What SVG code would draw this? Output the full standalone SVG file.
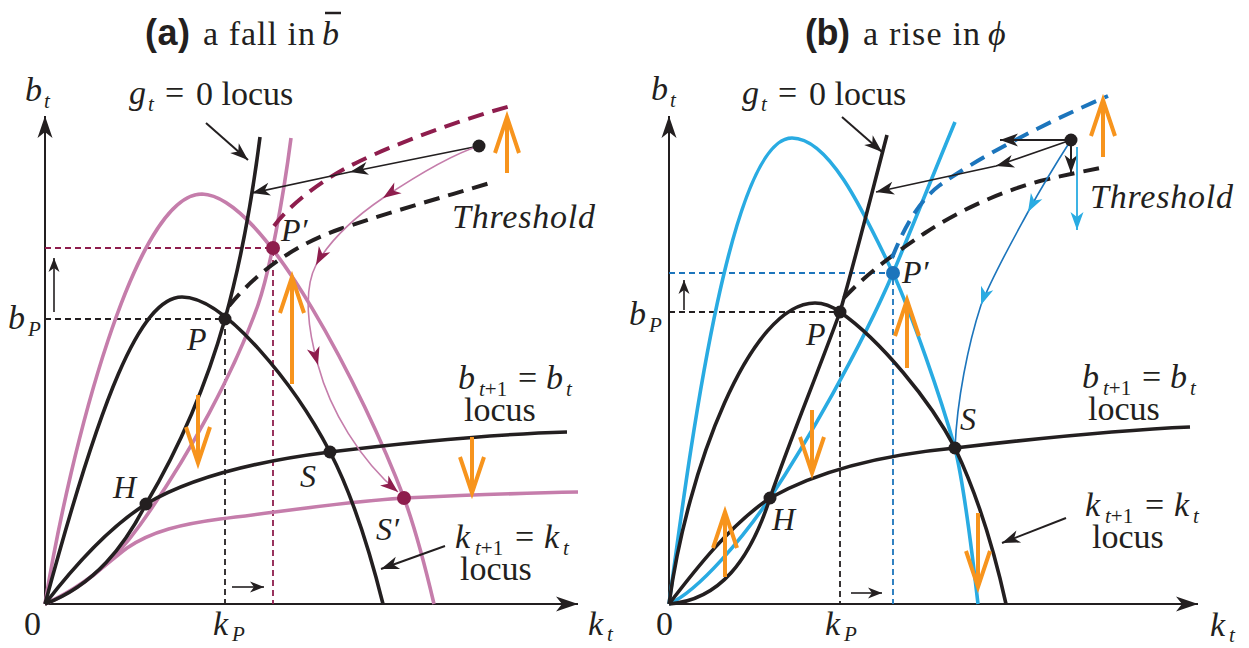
<svg xmlns="http://www.w3.org/2000/svg" width="1249" height="648" viewBox="0 0 1249 648" font-family="Liberation Serif, DejaVu Serif, serif">
<style>
text{font-family:'Liberation Serif','DejaVu Serif',serif;fill:#231f20}
.it{font-style:italic;font-size:34px}
.rm{font-style:normal;font-size:34px}
.pt{font-style:italic;font-size:32px}
.si{font-style:italic;font-size:21px}
.sr{font-style:normal;font-size:21px}
.ttl{font-family:'Liberation Sans',Arial,sans-serif;font-weight:bold;font-size:36px}
.axis{fill:none;stroke:#231f20;stroke-width:2}
.cb{fill:none;stroke:#231f20;stroke-width:3.6}
.cp{fill:none;stroke:#c57dab;stroke-width:3.6}
.cl{fill:none;stroke:#29abe2;stroke-width:3.6}
.thb{fill:none;stroke:#231f20;stroke-width:4;stroke-dasharray:16 9}
.thp{fill:none;stroke:#8e1d4d;stroke-width:4;stroke-dasharray:16 9}
.thl{fill:none;stroke:#1c75bc;stroke-width:4;stroke-dasharray:16 9}
.gb{fill:none;stroke:#231f20;stroke-width:1.8;stroke-dasharray:6 4}
.gp{fill:none;stroke:#8e1d4d;stroke-width:1.8;stroke-dasharray:6 4}
.gl{fill:none;stroke:#1c75bc;stroke-width:1.8;stroke-dasharray:6 4}
.thin{fill:none;stroke:#231f20;stroke-width:1.6}
.ann{fill:none;stroke:#231f20;stroke-width:2}
.or{fill:none;stroke:#f7941d;stroke-width:4}
.dk{fill:#231f20}
</style>
<defs>
<marker id="ax" viewBox="-24 -9 26 18" refX="0" refY="0" markerWidth="26" markerHeight="18" markerUnits="userSpaceOnUse" orient="auto"><path d="M0,0 L-22,-7.5 L-16,0 L-22,7.5 Z" fill="#231f20"/></marker>
<marker id="ab" viewBox="-20 -8 22 16" refX="0" refY="0" markerWidth="22" markerHeight="16" markerUnits="userSpaceOnUse" orient="auto"><path d="M0,0 L-18,-6.5 L-13,0 L-18,6.5 Z" fill="#231f20"/></marker>
<marker id="as" viewBox="-16 -7 18 14" refX="0" refY="0" markerWidth="18" markerHeight="14" markerUnits="userSpaceOnUse" orient="auto"><path d="M0,0 L-14,-5.5 L-10,0 L-14,5.5 Z" fill="#231f20"/></marker>
<marker id="ap" viewBox="-20 -8 22 16" refX="0" refY="0" markerWidth="22" markerHeight="16" markerUnits="userSpaceOnUse" orient="auto"><path d="M0,0 L-18,-6.5 L-13,0 L-18,6.5 Z" fill="#8e1d4d"/></marker>
<marker id="al" viewBox="-20 -8 22 16" refX="0" refY="0" markerWidth="22" markerHeight="16" markerUnits="userSpaceOnUse" orient="auto"><path d="M0,0 L-18,-6.5 L-13,0 L-18,6.5 Z" fill="#29abe2"/></marker>
</defs>
<rect width="1249" height="648" fill="#ffffff"/>

<g id="titles">
<text class="ttl" x="145" y="45" textLength="45">(a)</text>
<text class="rm" x="203" y="45" textLength="112">a fall in</text>
<text class="it" x="322" y="45">b</text>
<line x1="325" y1="13" x2="341" y2="13" stroke="#231f20" stroke-width="2.5"/>
<text class="ttl" x="805" y="45" textLength="45">(b)</text>
<text class="rm" x="863" y="45" textLength="117">a rise in</text>
<text class="it" x="988" y="45">ϕ</text>
</g>

<g id="axes">
<path class="axis" d="M45,604 V116" marker-end="url(#ax)"/>
<path class="axis" d="M45,604 H578" marker-end="url(#ax)"/>
<path class="axis" d="M669,604 V116" marker-end="url(#ax)"/>
<path class="axis" d="M669,604 H1198" marker-end="url(#ax)"/>
</g>

<g id="guides">
<path class="gb" d="M45,319 H225 V604"/>
<path class="gp" d="M45,248 H273 V604"/>
<path class="gb" d="M669,312 H840 V604"/>
<path class="gl" d="M669,273 H893 V604"/>
</g>

<g id="curves-a">
<path class="cp" d="M45,604 C70,450 135,194 202,194 C265,196 365,395 404,498 C414,525 426,570 434,604"/>
<path class="cp" d="M45,604 C85,588 115,560 140,525 C190,455 235,370 258,305 C270,270 283,200 291,138"/>
<path class="cp" d="M45,604 C85,586 108,562 127,548 C152,531 182,524 220,519 C280,512 340,502 404,498 C470,495 520,493 578,492"/>
<path class="cb" d="M45,604 C100,400 140,297 182,297 C225,297 295,385 330,452 C355,500 372,560 383,604"/>
<path class="cb" d="M45,604 C95,585 125,545 146,504 C175,455 205,390 225,319 C240,265 252,200 260,137"/>
<path class="cb" d="M45,604 C75,565 108,528 146,504 C190,478 250,462 330,452 C420,441 500,434 567,432"/>
<path class="thb" d="M229,306 C260,268 300,243 340,229 C390,212 440,198 490,183"/>
<path class="thp" d="M274,226 C290,205 320,180 360,161 C400,142 460,120 514,105"/>
</g>

<g id="curves-b">
<path class="cl" d="M669,604 C690,450 730,138 792,138 C830,138 865,215 893,273 C912,315 940,395 955,448 C965,490 973,560 978,604"/>
<path class="cl" d="M669,604 C700,590 745,535 770,498 C805,445 860,350 893,273 C912,228 935,170 955,122"/>
<path class="cb" d="M669,604 C687,470 750,303 815,303 C825,303 833,307 840,312 C880,340 930,400 955,448 C975,490 993,545 1006,604"/>
<path class="cb" d="M669,604 C720,600 750,560 770,498 C790,440 815,380 840,312 C855,260 870,200 887,135"/>
<path class="cb" d="M669,604 C695,570 730,525 770,498 C820,470 880,455 955,448 C1040,438 1120,430 1190,427"/>
<path class="thb" d="M844,298 C870,270 900,250 925,233 C960,210 1000,192 1040,181 C1065,175 1085,171 1105,167"/>
<path class="thl" d="M892,258 C905,225 920,200 940,185 C975,160 1040,125 1108,96"/>
</g>

<g id="connectors">
<path class="ann" d="M206,123 L248,160" marker-end="url(#ab)"/>
<path class="ann" d="M445,546 L381,569" marker-end="url(#ab)"/>
<path class="ann" d="M842,117 L882,152" marker-end="url(#ab)"/>
<path class="ann" d="M1066,518 L1002,543" marker-end="url(#ab)"/>
<path class="thin" d="M479,146 L350,172 L252,193" marker-mid="url(#ab)" marker-end="url(#ab)"/>
<path fill="none" stroke="#c57dab" stroke-width="1.6" d="M479,146 C450,155 410,180 383,198 C355,217 330,240 316,265 C303,290 308,330 318,365 C330,410 360,460 398,492" marker-mid="url(#ap)" marker-end="url(#ap)"/>
<path class="thin" d="M54,312 V258" marker-end="url(#as)"/>
<path class="thin" d="M232,587 H264" marker-end="url(#as)"/>
<path class="ann" d="M1071,140 H1000" marker-end="url(#ab)"/>
<path class="ann" d="M1071,140 V173" marker-end="url(#ab)"/>
<path class="thin" d="M1071,140 L996,166 L876,192" marker-mid="url(#ab)" marker-end="url(#ab)"/>
<path fill="none" stroke="#29abe2" stroke-width="1.8" d="M1077,147 V230" marker-end="url(#al)"/>
<path fill="none" stroke="#1c75bc" stroke-width="1.6" d="M1071,140 C1055,165 1040,190 1028,212 C1010,245 993,275 981,305 C968,345 957,400 955,448" marker-mid="url(#al)"/>
<path class="thin" d="M684,310 V280" marker-end="url(#as)"/>
<path class="thin" d="M851,593 H882" marker-end="url(#as)"/>
</g>

<g id="orange-arrows">
<path class="or" d="M507,173 V117 M495,153 L507,117 L519,153"/>
<path class="or" d="M292,384 V277 M280,313 L292,277 L304,313"/>
<path class="or" d="M198,395 V463 M186,427 L198,463 L210,427"/>
<path class="or" d="M472,437 V493 M460,457 L472,493 L484,457"/>
<path class="or" d="M1103,157 V100 M1091,136 L1103,100 L1115,136"/>
<path class="or" d="M907,368 V300 M895,336 L907,300 L919,336"/>
<path class="or" d="M812,410 V473 M800,437 L812,473 L824,437"/>
<path class="or" d="M725,577 V512 M713,548 L725,512 L737,548"/>
<path class="or" d="M978,513 V587 M966,551 L978,587 L990,551"/>
</g>

<g id="node-P-a"><circle class="dk" cx="225" cy="319" r="6.5"/><text class="pt" x="187" y="350">P</text></g>
<g id="node-H-a"><circle class="dk" cx="146" cy="504" r="6.5"/><text class="pt" x="113" y="498">H</text></g>
<g id="node-S-a"><circle class="dk" cx="330" cy="452" r="6.5"/><text class="pt" x="300" y="487">S</text></g>
<g id="node-start-a"><circle class="dk" cx="479" cy="146" r="6.5"/></g>
<g id="node-P2-a"><circle fill="#8e1d4d" cx="273" cy="248" r="7"/><text class="pt" x="281" y="241">P′</text></g>
<g id="node-S2-a"><circle fill="#8e1d4d" cx="404" cy="498" r="7"/><text class="pt" x="376" y="540">S′</text></g>

<g id="node-P-b"><circle class="dk" cx="840" cy="312" r="6.5"/><text class="pt" x="806" y="345">P</text></g>
<g id="node-H-b"><circle class="dk" cx="770" cy="498" r="6.5"/><text class="pt" x="772" y="530">H</text></g>
<g id="node-S-b"><circle class="dk" cx="955" cy="448" r="6.5"/><text class="pt" x="960" y="430">S</text></g>
<g id="node-start-b"><circle class="dk" cx="1071" cy="140" r="6.5"/></g>
<g id="node-P2-b"><circle fill="#1c75bc" cx="893" cy="273" r="7"/><text class="pt" x="902" y="283">P′</text></g>

<g id="labels-a">
<text class="it" x="25" y="101">b<tspan class="si" x="44" y="108">t</tspan></text>
<text class="it" x="129" y="104">g<tspan class="si" x="148" y="111">t</tspan><tspan class="rm" x="165" y="104">=</tspan><tspan class="rm" x="196" y="105">0 locus</tspan></text>
<text class="it" x="452" y="228" textLength="143">Threshold</text>
<text class="it" x="458" y="389">b<tspan class="si" x="479" y="396">t</tspan><tspan class="sr">+1</tspan><tspan class="rm" x="518" y="389">=</tspan><tspan x="546" y="389">b</tspan><tspan class="si" x="566" y="396">t</tspan></text>
<text class="rm" x="464" y="421">locus</text>
<text class="it" x="455" y="548">k<tspan class="si" x="475" y="555">t</tspan><tspan class="sr">+1</tspan><tspan class="rm" x="515" y="548">=</tspan><tspan x="544" y="548">k</tspan><tspan class="si" x="563" y="555">t</tspan></text>
<text class="rm" x="460" y="580">locus</text>
<text class="it" x="8" y="329">b<tspan class="si" x="28" y="336">P</tspan></text>
<text class="rm" x="24" y="635">0</text>
<text class="it" x="213" y="635">k<tspan class="si" x="232" y="641">P</tspan></text>
<text class="it" x="588" y="635">k<tspan class="si" x="607" y="641">t</tspan></text>
</g>

<g id="labels-b">
<text class="it" x="651" y="100">b<tspan class="si" x="670" y="107">t</tspan></text>
<text class="it" x="742" y="104">g<tspan class="si" x="761" y="111">t</tspan><tspan class="rm" x="778" y="104">=</tspan><tspan class="rm" x="809" y="105">0 locus</tspan></text>
<text class="it" x="1090" y="208" textLength="143">Threshold</text>
<text class="it" x="1082" y="388">b<tspan class="si" x="1103" y="395">t</tspan><tspan class="sr">+1</tspan><tspan class="rm" x="1142" y="388">=</tspan><tspan x="1170" y="388">b</tspan><tspan class="si" x="1190" y="395">t</tspan></text>
<text class="rm" x="1088" y="420">locus</text>
<text class="it" x="1085" y="516">k<tspan class="si" x="1105" y="523">t</tspan><tspan class="sr">+1</tspan><tspan class="rm" x="1145" y="516">=</tspan><tspan x="1174" y="516">k</tspan><tspan class="si" x="1193" y="523">t</tspan></text>
<text class="rm" x="1092" y="548">locus</text>
<text class="it" x="629" y="325">b<tspan class="si" x="649" y="332">P</tspan></text>
<text class="rm" x="656" y="635">0</text>
<text class="it" x="825" y="635">k<tspan class="si" x="844" y="641">P</tspan></text>
<text class="it" x="1210" y="636">k<tspan class="si" x="1229" y="642">t</tspan></text>
</g>
</svg>
